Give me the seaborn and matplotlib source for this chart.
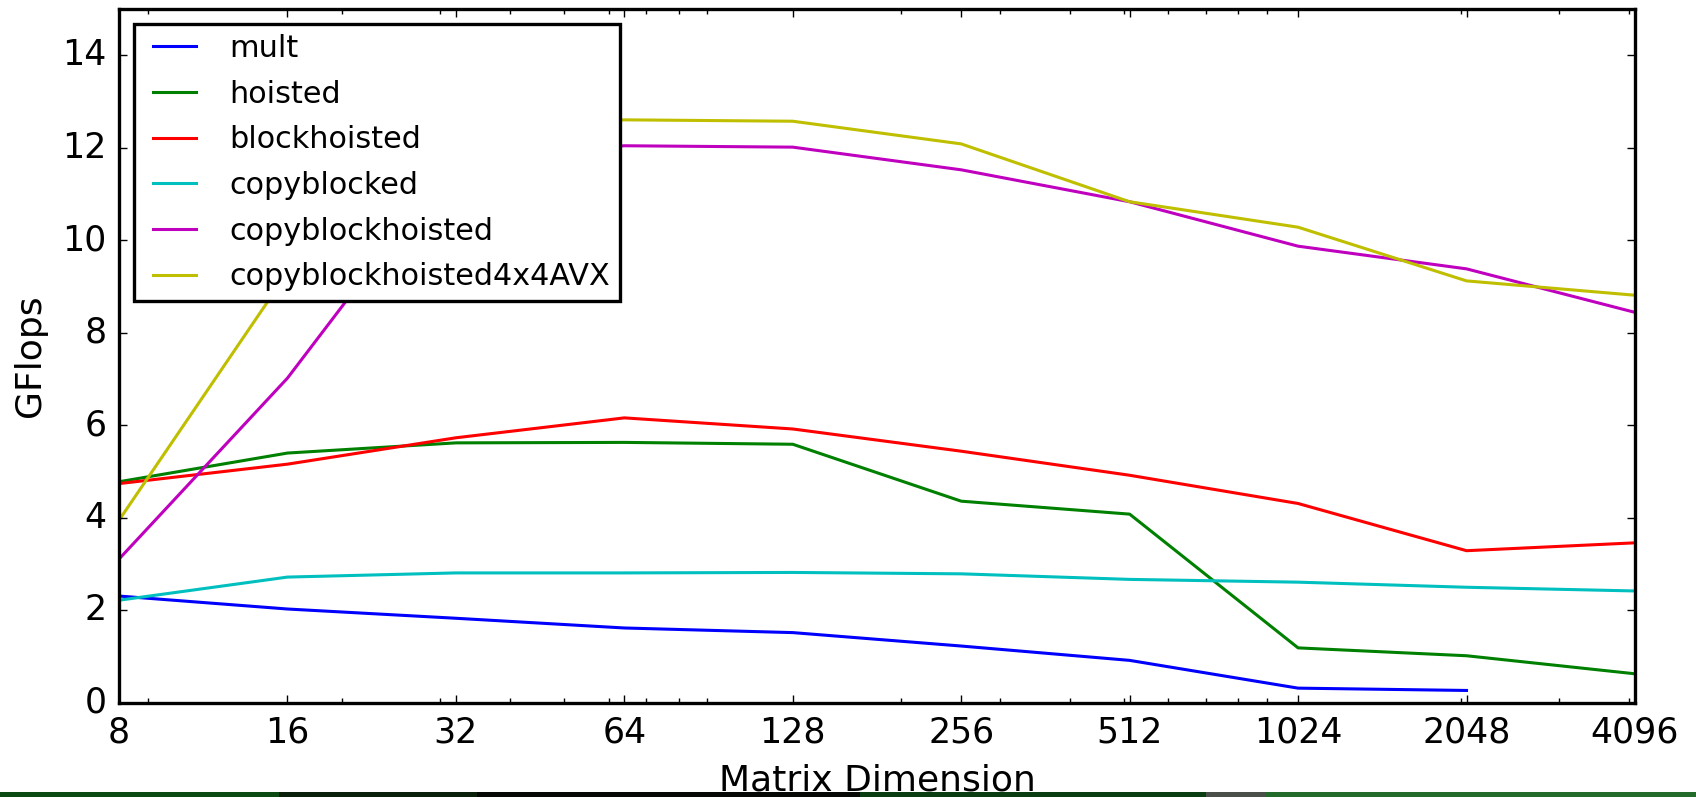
import numpy as np
import pandas as pd
import matplotlib
matplotlib.use('Agg')
import matplotlib.pyplot as plt
from matplotlib.patches import Rectangle
import seaborn as sns

# matrix sizes (x axis, log scale)
sizes = [8, 16, 32, 64, 128, 256, 512, 1024, 2048, 4096]
tick_labels = ['8', '16', '32', '64', '128', '256', '512', '1024', '2048', '4096']

# GFlops per variant (mult has no 4096 run)
mult = [2.31, 2.03, 1.83, 1.62, 1.52, 1.23, 0.92, 0.32, 0.27, np.nan]
hoisted = [4.78, 5.40, 5.62, 5.63, 5.59, 4.36, 4.08, 1.19, 1.02, 0.63]
blockhoisted = [4.74, 5.16, 5.73, 6.16, 5.92, 5.44, 4.92, 4.31, 3.29, 3.46]
copyblocked = [2.22, 2.72, 2.81, 2.81, 2.82, 2.79, 2.67, 2.61, 2.50, 2.42]
copyblockhoisted = [3.11, 7.02, 11.80, 12.04, 12.01, 11.52, 10.83, 9.87, 9.38, 8.44]
copyblockhoisted4x4avx = [3.95, 9.30, 12.40, 12.60, 12.57, 12.08, 10.83, 10.28, 9.12, 8.81]

series_names = ['mult', 'hoisted', 'blockhoisted', 'copyblocked',
                'copyblockhoisted', 'copyblockhoisted4x4AVX']
series_values = [mult, hoisted, blockhoisted, copyblocked,
                 copyblockhoisted, copyblockhoisted4x4avx]
series_colors = ['b', 'g', 'r', 'c', 'm', 'y']


def build_frame():
    rows = []
    for name, vals in zip(series_names, series_values):
        for n, v in zip(sizes, vals):
            rows.append({'size': n, 'gflops': v, 'variant': name})
    return pd.DataFrame(rows).dropna()


def main():
    df = build_frame()

    plt.style.use('classic')
    plt.rcParams['font.family'] = ['DejaVu Sans']

    fig = plt.figure(figsize=(16.96, 7.97), dpi=100, facecolor='white')
    ax = fig.add_subplot(111)
    fig.subplots_adjust(left=0.0702, right=0.964, bottom=0.118, top=0.989)

    for name, color in zip(series_names, series_colors):
        sub = df[df['variant'] == name]
        sns.lineplot(data=sub, x='size', y='gflops', color=color, label=name,
                     linewidth=2.2, errorbar=None, ax=ax)

    ax.set_xscale('log')
    ax.set_xlim(8, 4096)
    ax.set_ylim(0, 15)
    ax.set_xticks(sizes)
    ax.set_xticklabels(tick_labels)
    ax.set_yticks(range(0, 15, 2))

    ax.tick_params(axis='both', which='major', labelsize=25, direction='in',
                   length=6, width=1, pad=9, top=True, right=True)
    ax.tick_params(axis='both', which='minor', direction='in',
                   length=3.5, width=1, top=True, right=True)
    for sp in ax.spines.values():
        sp.set_linewidth(2.4)

    ax.set_xlabel('Matrix Dimension', fontsize=26, labelpad=10)
    ax.set_ylabel('GFlops', fontsize=26, labelpad=11)

    leg = ax.legend(loc='upper left', fontsize=21.8, numpoints=2,
                    borderpad=0.33, labelspacing=0.55, handlelength=2.0,
                    handletextpad=0.8, borderaxespad=0.5, fancybox=False)
    leg.get_frame().set_linewidth(2.4)
    leg.get_frame().set_edgecolor('black')

    # strip of the screenshot below the chart
    strip = [(0, 279, '#0b4a12'), (279, 477, '#0a200b'), (477, 860, '#050805'),
             (860, 1206, '#0b3d12'), (1206, 1265, '#4a4f4a'), (1265, 1696, '#236b2b')]
    for x0, x1, col in strip:
        fig.add_artist(Rectangle((x0 / 1696, 0), (x1 - x0) / 1696, 5 / 797,
                                 transform=fig.transFigure, color=col,
                                 zorder=10, linewidth=0))

    fig.savefig('out.png', dpi=100, facecolor='white')


if __name__ == '__main__':
    main()
